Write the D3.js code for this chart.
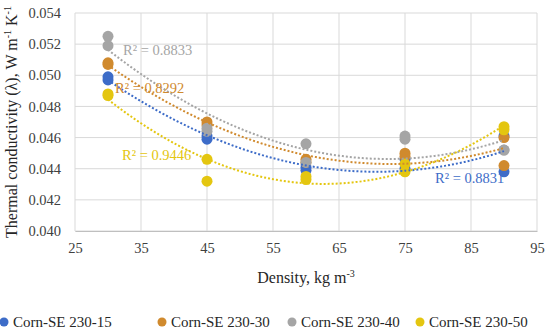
<!DOCTYPE html>
<html>
<head>
<meta charset="utf-8">
<script src="https://cdn.jsdelivr.net/npm/d3@7"></script>
<style>
  body { margin: 0; background: #fff; }
  svg { display: block; font-family: 'Liberation Serif', 'DejaVu Serif', serif; }
</style>
</head>
<body>
<div class="chart"></div>
<script>
// density levels and measured values (two replicates per level)
const densities = [30, 45, 60, 75, 90];
const seriesNames = ['Corn-SE 230-15', 'Corn-SE 230-30', 'Corn-SE 230-40', 'Corn-SE 230-50'];
const seriesColors = ['#3d6cc8', '#d08a2e', '#a5a5a5', '#e4c610'];
const values15 = [[0.0499, 0.0497], [0.0459, 0.0461], [0.0441, 0.0439], [0.0446, 0.0440], [0.0438, 0.0461]];
const values30 = [[0.0508, 0.0507], [0.0470, 0.0468], [0.0446, 0.0444], [0.0450, 0.0448], [0.0460, 0.0442]];
const values40 = [[0.0525, 0.0519], [0.0466, 0.0464], [0.0456, 0.0444], [0.0461, 0.0459], [0.0452, 0.0452]];
const values50 = [[0.0488, 0.0487], [0.0446, 0.0432], [0.0435, 0.0433], [0.0443, 0.0438], [0.0467, 0.0465]];
const r2Labels = ['R² = 0.8831', 'R² = 0.8292', 'R² = 0.8833', 'R² = 0.9446'];
const xTicks = [25, 35, 45, 55, 65, 75, 85, 95];
const yTicks = [0.040, 0.042, 0.044, 0.046, 0.048, 0.050, 0.052, 0.054];

const allValues = [values15, values30, values40, values50];

const width = 550, height = 333;
const margin = { top: 13, right: 13, bottom: 102, left: 75 };

const svg = d3.select('.chart').append('svg')
  .attr('width', width)
  .attr('height', height);

const xscale = d3.scaleLinear().domain([25, 95]).range([margin.left, width - margin.right]);
const yscale = d3.scaleLinear().domain([0.040, 0.054]).range([height - margin.bottom, margin.top]);

// gridlines
svg.append('g').selectAll('line.h').data(yTicks).enter().append('line')
  .attr('x1', xscale(25)).attr('x2', xscale(95))
  .attr('y1', d => yscale(d)).attr('y2', d => yscale(d))
  .attr('stroke', '#d9d9d9').attr('stroke-width', 1);
svg.append('g').selectAll('line.v').data(xTicks).enter().append('line')
  .attr('x1', d => xscale(d)).attr('x2', d => xscale(d))
  .attr('y1', yscale(0.054)).attr('y2', yscale(0.040))
  .attr('stroke', '#d9d9d9').attr('stroke-width', 1);

// axes (labels only, Excel style)
const x_axis = d3.axisBottom(xscale).tickValues(xTicks).tickSize(0).tickPadding(12);
const y_axis = d3.axisLeft(yscale).tickValues(yTicks).tickSize(0).tickPadding(14).tickFormat(d3.format('.3f'));

const gx = svg.append('g').attr('transform', 'translate(0,' + yscale(0.040) + ')').call(x_axis);
gx.select('.domain').attr('stroke', '#bfbfbf');
const gy = svg.append('g').attr('transform', 'translate(' + margin.left + ',0)').call(y_axis);
gy.select('.domain').remove();
svg.selectAll('.tick text').attr('font-size', 14.5).attr('fill', '#404040')
  .attr('font-family', "'Liberation Serif', serif");

// quadratic least-squares trendline
function polyfit(pts) {
  let s = [0, 0, 0, 0, 0], t = [0, 0, 0];
  pts.forEach(p => {
    for (let k = 0; k < 5; k++) s[k] += Math.pow(p.x, k);
    for (let k = 0; k < 3; k++) t[k] += p.y * Math.pow(p.x, k);
  });
  const A = [[s[0], s[1], s[2], t[0]], [s[1], s[2], s[3], t[1]], [s[2], s[3], s[4], t[2]]];
  for (let i = 0; i < 3; i++) {
    for (let j = i + 1; j < 3; j++) {
      const f = A[j][i] / A[i][i];
      for (let k = i; k < 4; k++) A[j][k] -= f * A[i][k];
    }
  }
  const c = [0, 0, 0];
  for (let i = 2; i >= 0; i--) {
    let v = A[i][3];
    for (let k = i + 1; k < 3; k++) v -= A[i][k] * c[k];
    c[i] = v / A[i][i];
  }
  return x => c[0] + c[1] * x + c[2] * x * x;
}

const line = d3.line().x(d => xscale(d.x)).y(d => yscale(d.y));

const seriesPts = allValues.map(vals => {
  const pts = [];
  vals.forEach((reps, i) => reps.forEach(v => pts.push({ x: densities[i], y: v })));
  return pts;
});

// markers
seriesPts.forEach((pts, si) => {
  svg.append('g').selectAll('circle').data(pts).enter().append('circle')
    .attr('cx', d => xscale(d.x))
    .attr('cy', d => yscale(d.y))
    .attr('r', 5.5)
    .attr('fill', seriesColors[si]);
});

// trendlines
seriesPts.forEach((pts, si) => {
  const f = polyfit(pts);
  const curve = d3.range(30, 90.01, 0.5).map(x => ({ x: x, y: f(x) }));
  svg.append('path')
    .datum(curve)
    .attr('fill', 'none')
    .attr('stroke', seriesColors[si])
    .attr('stroke-width', 2)
    .attr('stroke-dasharray', '2 2')
    .attr('d', line);
});

// R² labels
const labelPos = [[435, 183], [115, 93], [123, 55], [122, 160]];
r2Labels.forEach((t, i) => {
  svg.append('text')
    .attr('x', labelPos[i][0]).attr('y', labelPos[i][1])
    .attr('font-size', 14.5)
    .attr('fill', seriesColors[i])
    .text(t);
});

// axis titles
const xt = svg.append('text')
  .attr('x', (xscale(25) + xscale(95)) / 2).attr('y', 283)
  .attr('text-anchor', 'middle').attr('font-size', 16).attr('fill', '#262626');
xt.append('tspan').text('Density, kg m');
xt.append('tspan').attr('font-size', 10).attr('dy', -6).text('-3');

const yt = svg.append('text')
  .attr('transform', 'translate(17,' + (yscale(0.047)) + ') rotate(-90)')
  .attr('text-anchor', 'middle').attr('font-size', 16).attr('fill', '#262626');
yt.append('tspan').text('Thermal conductivity (λ), W m');
yt.append('tspan').attr('font-size', 10).attr('dy', -6).text('-1');
yt.append('tspan').attr('dy', 6).text(' K');
yt.append('tspan').attr('font-size', 10).attr('dy', -6).text('-1');

// legend
const legendX = [4, 162, 292, 420];
const legend = svg.append('g').selectAll('g').data(seriesNames).enter().append('g')
  .attr('transform', (d, i) => 'translate(' + legendX[i] + ',322)');
legend.append('circle').attr('cx', 0).attr('cy', 0).attr('r', 4.5)
  .attr('fill', (d, i) => seriesColors[i]);
legend.append('text').attr('x', 9).attr('y', 5)
  .attr('font-size', 15).attr('fill', '#262626').text(d => d);
</script>
</body>
</html>
